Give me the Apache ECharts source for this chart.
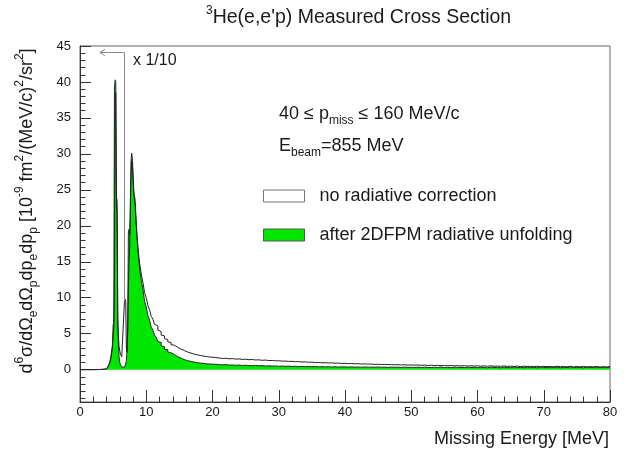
<!DOCTYPE html>
<html><head><meta charset="utf-8">
<script src="https://cdn.jsdelivr.net/npm/echarts@6/dist/echarts.min.js"></script>
<style>html,body{margin:0;padding:0;background:#fff}#c{width:637px;height:450px}</style>
</head><body><div id="c"></div><script>
// Missing energy bin edges [MeV]
const energies = [0,1,2,3,3.5,
4.0,4.1,4.2,4.3,4.4,4.5,4.6,4.7,4.8,4.9,
5.0,5.1,5.2,5.3,5.4,5.5,5.6,5.7,5.8,5.9,
6.0,6.1,6.2,6.3,6.4,6.5,6.6,6.7,6.8,6.9,
7.0,7.1,7.2,7.3,7.4,7.5,7.6,7.7,7.8,7.9,
8.0,8.1,8.2,8.3,8.4,8.5,8.6,8.7,8.8,8.9,
9.0,9.25,9.5,9.75,10,10.25,10.5,10.75,11,11.25,11.5,11.75,12,12.25,12.5,12.75,13,13.25,13.5,13.75,14,14.25,14.5,14.75,15,15.25,15.5,15.75,16,16.25,16.5,16.75,17,17.25,17.5,17.75,18,18.25,18.5,18.75,19,19.25,19.5,19.75,20,
20.5,21,21.5,22,22.5,23,23.5,24,24.5,25,25.5,26,26.5,27,27.5,28,28.5,29,29.5,30,
30.5,31,31.5,32,32.5,33,33.5,34,34.5,35,35.5,36,36.5,37,37.5,38,38.5,39,39.5,40,
40.5,41,41.5,42,42.5,43,43.5,44,44.5,45,45.5,46,46.5,47,47.5,48,48.5,49,49.5,50,
50.5,51,51.5,52,52.5,53,53.5,54,54.5,55,55.5,56,56.5,57,57.5,58,58.5,59,59.5,60,
60.5,61,61.5,62,62.5,63,63.5,64,64.5,65,65.5,66,66.5,67,67.5,68,68.5,69,69.5,70,
70.5,71,71.5,72,72.5,73,73.5,74,74.5,75,75.5,76,76.5,77,77.5,78,78.5,79,79.5,80];

// after 2DFPM radiative unfolding (green)
const unfolded = [0,0,0.02,0.05,0.1,
0.2,0.3,0.4,0.6,0.8,1.1,1.5,2.0,2.8,3.5,
6.2,6.5,39.0,40.3,40,24,23.5,6.5,3.5,1.8,
1.0,0.7,0.5,0.4,0.35,0.3,0.3,0.4,0.5,0.8,
1.3,2.5,6.0,19.0,19.5,18.8,23.5,29.0,30.1,29.4,
27.5,25.2,24.2,23.8,22.0,20.2,18.6,17.2,16.1,15.0,
14.0,12.4,11.2,9.5,8.7,7.5,6.9,5.9,5.5,4.8,4.5,3.9,3.8,3.3,3.2,2.8,2.8,2.45,2.35,2.1,2.1,1.85,1.8,1.6,1.6,1.4,1.4,1.25,1.25,1.1,1.15,1.0,1.05,0.92,0.96,0.86,0.9,0.82,0.86,0.77,0.8,0.73,0.78,0.7,0.74,
0.72,0.66,0.70,0.63,0.66,0.60,0.64,0.58,0.62,0.57,0.55,0.59,0.53,0.56,0.50,0.54,0.49,0.52,0.47,0.50,
0.46,0.49,0.44,0.47,0.42,0.46,0.41,0.44,0.40,0.43,0.39,0.42,0.38,0.41,0.37,0.40,0.36,0.39,0.38,0.35,
0.39,0.34,0.37,0.33,0.38,0.34,0.36,0.32,0.37,0.33,0.35,0.31,0.36,0.32,0.34,0.30,0.36,0.31,0.33,0.30,
0.34,0.29,0.35,0.31,0.28,0.34,0.30,0.36,0.29,0.33,0.27,0.35,0.30,0.32,0.28,0.36,0.29,0.33,0.27,0.34,
0.30,0.26,0.37,0.29,0.33,0.25,0.35,0.30,0.27,0.38,0.28,0.32,0.26,0.36,0.29,0.34,0.25,0.37,0.30,0.27,
0.35,0.28,0.38,0.26,0.33,0.29,0.39,0.27,0.34,0.30,0.25,0.37,0.31,0.28,0.38,0.26,0.35,0.30,0.36,0.29];

// no radiative correction (white, outline only)
const noCorrection = [0,0,0.02,0.05,0.1,
0.2,0.3,0.4,0.5,0.7,1.0,1.3,1.8,2.4,3.0,
4.8,5.6,11,38,38.5,23,21.5,7.5,4.5,3.2,
2.6,2.2,2.0,1.8,1.7,1.6,1.55,9.3,9.8,9.5,
3.0,2.4,5.0,11,15,17,21,27,29,28.6,
26.5,24.6,23.6,23.2,21.6,20.0,18.7,17.5,16.5,15.6,
14.8,13.3,12.1,10.7,10.0,8.9,8.3,7.4,7.0,6.3,6.1,5.5,5.3,4.8,4.7,4.3,4.2,3.85,3.75,3.45,3.4,3.15,3.1,2.9,2.85,2.65,2.65,2.45,2.45,2.3,2.3,2.15,2.15,2.02,2.05,1.93,1.95,1.85,1.87,1.77,1.8,1.71,1.74,1.65,1.68,
1.62,1.55,1.58,1.50,1.54,1.46,1.49,1.42,1.45,1.38,1.41,1.34,1.36,1.30,1.33,1.26,1.28,1.22,1.24,1.18,
1.20,1.14,1.16,1.10,1.12,1.06,1.08,1.02,1.04,0.98,1.00,0.95,0.97,0.92,0.94,0.89,0.91,0.86,0.88,0.84,
0.86,0.81,0.83,0.78,0.80,0.76,0.78,0.73,0.75,0.71,0.73,0.69,0.71,0.67,0.69,0.65,0.68,0.63,0.66,0.62,
0.64,0.60,0.63,0.58,0.61,0.57,0.60,0.55,0.59,0.54,0.57,0.53,0.56,0.51,0.55,0.50,0.54,0.49,0.53,0.48,
0.52,0.47,0.53,0.46,0.50,0.45,0.51,0.44,0.49,0.43,0.50,0.42,0.48,0.44,0.47,0.41,0.48,0.40,0.46,0.42,
0.45,0.39,0.47,0.40,0.44,0.38,0.46,0.37,0.43,0.39,0.45,0.36,0.42,0.38,0.44,0.35,0.41,0.37,0.43,0.36];

const yLabelValues = [0,5,10,15,20,25,30,35,40,45];
const yMinorValues = [-4,-3,-2,-1,0,1,2,3,4,5,6,7,8,9,10,11,12,13,14,15,16,17,18,19,20,21,22,23,24,25,26,27,28,29,30,31,32,33,34,35,36,37,38,39,40,41,42,43,44,45];
const seriesNames = ['no radiative correction', 'after 2DFPM radiative unfolding'];
// "x 1/10" arrow (data coordinates)
const arrowX = 6.69, arrowTop = 44.1, arrowBottom = 9.6, arrowLeft = 3.0;

const FONT = '"Liberation Sans", Arial, Helvetica, sans-serif';
const TXT = '#1a1a1a';
const GREEN = '#00e600';

const chart = echarts.init(document.getElementById('c'), null, {renderer: 'canvas'});
chart.setOption({
  animation: false,
  backgroundColor: '#fff',
  title: {
    text: '{sup|3}{t|He(e,e\'p) Measured Cross Section}',
    left: 206, top: 5, padding: 0,
    textStyle: {
      fontWeight: 'normal',
      rich: {
        t: {fontSize: 19.5, fontWeight: 'normal', fontFamily: FONT, color: TXT, lineHeight: 26, verticalAlign: 'middle'},
        sup: {fontSize: 12, fontWeight: 'normal', fontFamily: FONT, color: TXT, lineHeight: 12, verticalAlign: 'top'}
      }
    }
  },
  grid: {left: 80, right: 27, top: 46, bottom: 48, show: true, borderColor: '#666', borderWidth: 1, backgroundColor: 'transparent'},
  legend: {
    left: 258, top: 182, orient: 'vertical', icon: 'rect',
    itemWidth: 41, itemHeight: 12, itemGap: 21,
    textStyle: {fontSize: 18, color: TXT, fontFamily: FONT, padding: [0, 0, 0, 10]},
    data: [
      {name: seriesNames[0], itemStyle: {color: '#fff', borderColor: '#777', borderWidth: 1}},
      {name: seriesNames[1], itemStyle: {color: GREEN, borderColor: '#555', borderWidth: 1}}
    ]
  },
  xAxis: {
    type: 'value', min: 0, max: 80, interval: 10,
    axisLine: {show: true, onZero: false, lineStyle: {color: '#333'}},
    axisTick: {show: true, inside: true, length: 12, lineStyle: {color: '#333'}},
    minorTick: {show: true, splitNumber: 5, length: 5.5, lineStyle: {color: '#333'}},
    axisLabel: {fontSize: 13, color: TXT, fontFamily: FONT, margin: 4},
    splitLine: {show: false}
  },
  yAxis: [
    {
      type: 'value', min: -4.5, max: 45, position: 'left',
      axisLine: {show: true, onZero: false, lineStyle: {color: '#333'}},
      axisTick: {show: true, inside: true, length: 11, customValues: yLabelValues, lineStyle: {color: '#333'}},
      axisLabel: {customValues: yLabelValues, fontSize: 13, color: TXT, fontFamily: FONT, margin: 9},
      splitLine: {show: false}
    },
    {
      type: 'value', min: -4.5, max: 45, position: 'left',
      axisLine: {show: false},
      axisTick: {show: true, inside: true, length: 5.5, customValues: yMinorValues, lineStyle: {color: '#333'}},
      axisLabel: {show: false},
      splitLine: {show: false}
    }
  ],
  series: [
    {
      name: seriesNames[1], type: 'line', step: 'end', symbol: 'none', z: 2,
      data: energies.map((e, i) => [e, unfolded[i]]),
      itemStyle: {color: GREEN},
      lineStyle: {color: '#2a2a2a', width: 1},
      areaStyle: {color: GREEN, opacity: 1},
      markLine: {
        silent: true, symbol: ['none', 'none'], label: {show: false},
        lineStyle: {color: '#8a8a8a', width: 1, type: 'solid'},
        data: [
          [{coord: [arrowX, arrowTop]}, {coord: [arrowX, arrowBottom]}],
          [{coord: [arrowX, arrowTop]}, {coord: [arrowLeft, arrowTop]}],
          [{coord: [arrowLeft, arrowTop]}, {coord: [arrowLeft + 0.75, arrowTop + 0.45]}],
          [{coord: [arrowLeft, arrowTop]}, {coord: [arrowLeft + 0.75, arrowTop - 0.45]}]
        ]
      }
    },
    {
      name: seriesNames[0], type: 'line', step: 'end', symbol: 'none', z: 3,
      data: energies.map((e, i) => [e, noCorrection[i]]),
      itemStyle: {color: '#fff'},
      lineStyle: {color: '#222', width: 1}
    }
  ],
  graphic: [
    {
      type: 'text', x: 27, y: 211, rotation: Math.PI / 2, silent: true,
      style: {
        text: '{n|d}{sp|6}{n|σ/dΩ}{sb|e}{n|dΩ}{sb|p}{n|dp}{sb|e}{n|dp}{sb|p}{n| [10}{sp|-9}{n| fm}{sp|2}{n|/(MeV/c)}{sp|2}{n|/sr}{sp|2}{n|]}',
        align: 'center', verticalAlign: 'middle', fill: TXT,
        rich: {
          n: {fontSize: 18, fontFamily: FONT, fill: TXT, lineHeight: 26, verticalAlign: 'middle'},
          sp: {fontSize: 12, fontFamily: FONT, fill: TXT, lineHeight: 12, verticalAlign: 'top'},
          sb: {fontSize: 12, fontFamily: FONT, fill: TXT, lineHeight: 12, verticalAlign: 'bottom'}
        }
      }
    },
    {
      type: 'text', x: 609, y: 439, silent: true,
      style: {text: 'Missing Energy [MeV]', font: '18px ' + FONT, fill: TXT, align: 'right', verticalAlign: 'middle'}
    },
    {
      type: 'text', x: 279, y: 114, silent: true,
      style: {
        text: '{n|40 ≤ p}{sb|miss}{n| ≤ 160 MeV/c}', align: 'left', verticalAlign: 'middle',
        rich: {
          n: {fontSize: 18, fontFamily: FONT, fill: TXT, lineHeight: 26, verticalAlign: 'middle'},
          sb: {fontSize: 12, fontFamily: FONT, fill: TXT, lineHeight: 12, verticalAlign: 'bottom'}
        }
      }
    },
    {
      type: 'text', x: 279, y: 146, silent: true,
      style: {
        text: '{n|E}{sb|beam}{n|=855 MeV}', align: 'left', verticalAlign: 'middle',
        rich: {
          n: {fontSize: 18, fontFamily: FONT, fill: TXT, lineHeight: 26, verticalAlign: 'middle'},
          sb: {fontSize: 12, fontFamily: FONT, fill: TXT, lineHeight: 12, verticalAlign: 'bottom'}
        }
      }
    },
    {
      type: 'text', x: 133, y: 61, silent: true,
      style: {text: 'x 1/10', font: '16px ' + FONT, fill: TXT, align: 'left', verticalAlign: 'middle'}
    }
  ]
});
</script></body></html>
